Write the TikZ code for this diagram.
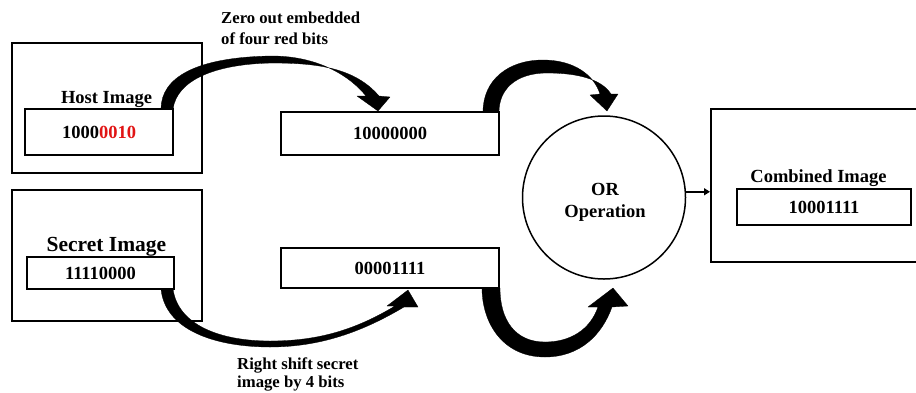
\documentclass[tikz,border=0pt]{standalone}
\usepackage{fontspec}
\setmainfont{Liberation Serif}
\usetikzlibrary{arrows.meta}
\definecolor{redbits}{RGB}{225,20,20}
\begin{document}
\begin{tikzpicture}[x=1pt,y=-1pt,
  box/.style={draw, line width=2pt, inner sep=0pt, rectangle},
  lbl/.style={inner sep=0pt, font=\bfseries\fontsize{18.5}{20}\selectfont},
  small/.style={inner sep=0pt, anchor=base west, font=\bfseries\fontsize{16.7}{20}\selectfont},
  band/.style={fill=black, draw=black, line width=0.3pt, line join=round}]
\useasboundingbox (0,0) rectangle (916,392);
\clip (0,0) rectangle (916,392);
% host image
\node[box, minimum width=190pt, minimum height=130pt] (hostout) at (107,108) {};
\node[box, lbl, minimum width=148pt, minimum height=46pt] (hostin) at (99,132) {1000\textcolor{redbits}{0010}};
\node[lbl, anchor=base] (hostlbl) at (106.5,103) {Host Image};
% secret image
\node[box, minimum width=190pt, minimum height=131pt] (secout) at (107,255.5) {};
\node[box, lbl, minimum width=147pt, minimum height=32pt] (secin) at (100.5,273) {11110000};
\node[lbl, anchor=base, font=\bfseries\fontsize{21.5}{23}\selectfont] (seclbl) at (106.5,251) {Secret Image};
% middle boxes
\node[box, lbl, minimum width=218pt, minimum height=43pt] (zeroed) at (390,133.5) {10000000};
\node[box, lbl, minimum width=218pt, minimum height=40pt] (shifted) at (390,268) {00001111};
% OR operation
\node[draw, circle, line width=1.5pt, minimum size=163pt, inner sep=0pt] (orop) at (604,197.5) {};
\node[lbl, anchor=base] (ortxt1) at (605,195) {OR};
\node[lbl, anchor=base] (ortxt2) at (605,217) {Operation};
% combined image
\node[box, minimum width=219pt, minimum height=153pt] (comb) at (820.5,185.5) {};
\node[lbl, anchor=base] (comblbl) at (818.5,182) {Combined Image};
\node[box, lbl, minimum width=174pt, minimum height=36pt] (combin) at (824,207) {10001111};
% captions
\node[small] (cap1a) at (221,23) {Zero out embedded};
\node[small] (cap1b) at (221,44) {of four red bits};
\node[small] (cap2a) at (237,369) {Right shift secret};
\node[small] (cap2b) at (237,387) {image by 4 bits};
% curved block arrows
\path[band] (161,109) .. controls (161,78) and (195,57) .. (272,56)
  .. controls (318,56) and (350,76) .. (366,96) -- (357,96) -- (378,111) -- (390,97) -- (379,96)
  .. controls (355,68) and (318,63) .. (272,63)
  .. controls (215,64) and (177,80) .. (173,109) -- cycle;
\path[band] (483,112) .. controls (483,80) and (508,60) .. (543,60)
  .. controls (574,60) and (594,75) .. (600,94) -- (590,95) -- (607,111) -- (618,94) -- (611,94)
  .. controls (602,80) and (580,73) .. (547,73)
  .. controls (515,73) and (499,90) .. (499,112) -- cycle;
\path[band] (161,289) .. controls (165,330) and (215,347) .. (270,347)
  .. controls (320,347) and (362,332) .. (404,307) -- (418,307) -- (408,290) -- (387,306) -- (395,306)
  .. controls (355,330) and (318,341) .. (270,341)
  .. controls (220,341) and (178,325) .. (173,289) -- cycle;
\path[band] (482,288) .. controls (482,322) and (502,357) .. (545,357)
  .. controls (580,357) and (602,335) .. (612,307) -- (628,306) -- (613,288) -- (588,307) -- (598,307)
  .. controls (590,330) and (570,342) .. (545,342)
  .. controls (515,342) and (500,320) .. (500,288) -- cycle;
% output connector
\draw[line width=2.5pt, -{Triangle[length=6pt,width=7pt]}] (orop.4) -- (orop.4 -| comb.west);
\end{tikzpicture}
\end{document}
